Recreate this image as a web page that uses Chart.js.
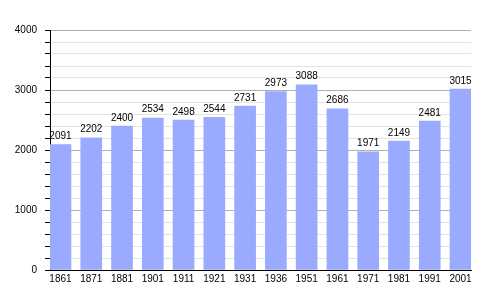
<!DOCTYPE html>
<html>
<head>
<meta charset="utf-8">
<script src="https://cdn.jsdelivr.net/npm/chart.js@4/dist/chart.umd.min.js"></script>
<style>
  html, body { margin: 0; padding: 0; background: #fff; }
  #wrap { width: 500px; height: 300px; }
</style>
</head>
<body>
<div id="wrap"><canvas id="chart"></canvas></div>
<script>
const years = ["1861", "1871", "1881", "1901", "1911", "1921", "1931", "1936", "1951", "1961", "1971", "1981", "1991", "2001"]
const population = [2091, 2202, 2400, 2534, 2498, 2544, 2731, 2973, 3088, 2686, 1971, 2149, 2481, 3015]
const yTicksMajor = [0, 1000, 2000, 3000, 4000]

const fontFamily = "'Liberation Sans', Arial, sans-serif"
const fontSize = 10
const barColor = "#99aaff"

// labels on top of each bar
const valueLabels = {
    id: "valueLabels",
    afterDatasetsDraw(chart) {
        const ctx = chart.ctx
        const meta = chart.getDatasetMeta(0)
        ctx.save()
        ctx.font = fontSize + "px " + fontFamily
        ctx.fillStyle = "#000"
        ctx.textAlign = "center"
        ctx.textBaseline = "alphabetic"
        meta.data.forEach((bar, i) => {
            ctx.fillText(String(population[i]), bar.x, bar.y - 5.5)
        })
        ctx.restore()
    }
}

const ctx = document.getElementById("chart").getContext("2d")

window.popChart = new Chart(ctx, {
    type: "bar",
    data: {
        datasets: [{
            data: population.map((v, i) => ({ x: i, y: v })),
            backgroundColor: barColor,
            borderWidth: 0,
            barThickness: 21
        }]
    },
    options: {
        responsive: true,
        maintainAspectRatio: false,
        animation: false,
        layout: { padding: { top: 30, right: 29, bottom: 0, left: 0 } },
        plugins: {
            legend: { display: false },
            tooltip: { enabled: false }
        },
        scales: {
            x: {
                type: "linear",
                offset: false,
                min: -0.341,
                max: years.length - 1 + 0.341,
                afterBuildTicks: scale => {
                    scale.ticks = years.map((_, i) => ({ value: i }))
                },
                afterFit: scale => { scale.height = 30 },
                grid: { display: false, drawTicks: false, offset: false },
                border: { display: true, color: "#000", width: 1 },
                ticks: {
                    autoSkip: false,
                    maxRotation: 0,
                    padding: 3,
                    color: "#000",
                    font: { family: fontFamily, size: fontSize },
                    callback: v => years[v]
                }
            },
            y: {
                min: 0,
                max: 4000,
                afterFit: scale => { scale.width = 50 },
                grid: {
                    color: c => yTicksMajor.includes(c.tick.value) ? "#b0b0b0" : "#e3e3e3",
                    tickColor: "#000",
                    tickLength: 5
                },
                border: { color: "#000", width: 1 },
                ticks: {
                    stepSize: 200,
                    autoSkip: false,
                    padding: 8,
                    color: "#000",
                    font: { family: fontFamily, size: fontSize },
                    callback: v => yTicksMajor.includes(v) ? v : ""
                }
            }
        }
    },
    plugins: [valueLabels]
})
</script>
</body>
</html>
